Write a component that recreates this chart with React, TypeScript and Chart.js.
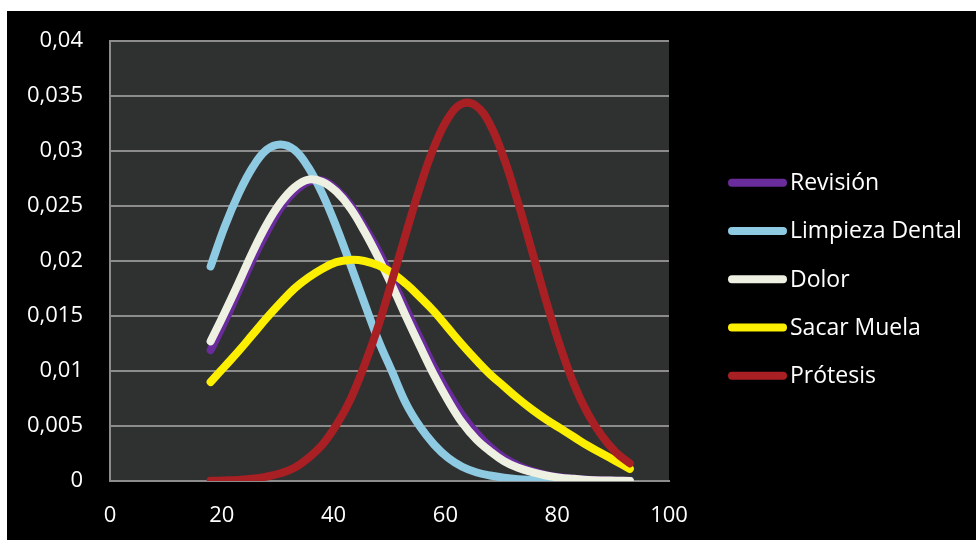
import React, { useEffect, useRef } from "react";
import { Chart, registerables } from "chart.js";

Chart.register(...registerables);

// ---- data ----
const xValues = [
  18, 20.5, 23, 25.5, 28, 30.5, 33, 35.5, 38, 40.5, 43, 45.5, 48, 50.5, 53, 55.5,
  58, 60.5, 63, 65.5, 68, 70.5, 73, 75.5, 78, 80.5, 83, 85.5, 88, 90.5, 93,
];
const seriesNames = ["Revisión", "Limpieza Dental", "Dolor", "Sacar Muela", "Prótesis"];
const revision = [
  0.0119, 0.0145, 0.0173, 0.0201, 0.0226, 0.0248, 0.0263, 0.0272, 0.0273, 0.0265, 0.0251, 0.0231,
  0.0209, 0.0183, 0.0156, 0.0129, 0.0103, 0.008, 0.006, 0.0044, 0.0031, 0.0021, 0.0014, 0.0009,
  0.00056, 0.00034, 0.0002, 0.00012, 0.00007, 0.00004, 0.00002,
];
const limpieza = [
  0.0195, 0.0231, 0.0261, 0.0285, 0.0301, 0.0306, 0.0301, 0.0285, 0.0261, 0.0231, 0.0197, 0.0162,
  0.0128, 0.0099, 0.007, 0.0049, 0.0033, 0.0021, 0.0013, 0.0008, 0.0005, 0.0003, 0.00017, 0.0001,
  0.00005, 0.00003, 0.00001, 0, 0, 0, 0,
];
const dolor = [
  0.0127, 0.0153, 0.018, 0.0208, 0.0233, 0.0253, 0.0267, 0.0274, 0.0272, 0.0263, 0.0248, 0.0227,
  0.0203, 0.0177, 0.0149, 0.0122, 0.0096, 0.0073, 0.0053, 0.0038, 0.0027, 0.0018, 0.0012, 0.0008,
  0.0005, 0.0003, 0.0002, 0.0001, 0.00005, 0.00003, 0.00001,
];
const sacarMuela = [
  0.009, 0.0104, 0.0118, 0.0133, 0.0148, 0.0162, 0.0175, 0.0185, 0.0193, 0.0199, 0.0201, 0.02,
  0.0196, 0.0189, 0.0179, 0.0167, 0.0154, 0.0139, 0.0124, 0.011, 0.0097, 0.0086, 0.0075, 0.0065,
  0.0056, 0.0048, 0.004, 0.0032, 0.0025, 0.0018, 0.0011,
];
const protesis = [
  0.00002, 0.00005, 0.0001, 0.0002, 0.0004, 0.0007, 0.0012, 0.0021, 0.0033, 0.0051, 0.0074, 0.0105,
  0.0141, 0.0183, 0.0226, 0.0268, 0.0304, 0.033, 0.0343, 0.0341, 0.0324, 0.0293, 0.0253, 0.0209,
  0.0164, 0.0123, 0.0088, 0.0061, 0.0041, 0.0026, 0.0016,
];
const seriesValues = [revision, limpieza, dolor, sacarMuela, protesis];
const seriesColors = ["#6a2c9c", "#8ecbe2", "#eef0e2", "#fcf000", "#a81f24"];

const xMin = 0;
const xMax = 100;
const xStep = 20;
const yMin = 0;
const yMax = 0.04;
const yStep = 0.005;

const FONT = "'Open Sans', 'DejaVu Sans', sans-serif";

const plotBgPlugin = {
  id: "plotBg",
  beforeDraw(chart: any) {
    const { ctx, chartArea } = chart;
    ctx.save();
    ctx.fillStyle = "#2f3131";
    ctx.fillRect(chartArea.left, chartArea.top, chartArea.right - chartArea.left, chartArea.bottom - chartArea.top);
    ctx.restore();
  },
};

const legendPlugin = {
  id: "customLegend",
  afterDraw(chart: any) {
    const { ctx } = chart;
    const lineX1 = 725;
    const lineX2 = 776;
    const textX = 783;
    const top = 171.7;
    const gap = 48.25;
    ctx.save();
    ctx.font = `23px ${FONT}`;
    ctx.textBaseline = "middle";
    ctx.textAlign = "left";
    chart.data.datasets.forEach((ds: any, i: number) => {
      const y = top + gap * i;
      ctx.strokeStyle = ds.borderColor;
      ctx.lineWidth = 8;
      ctx.lineCap = "round";
      ctx.beginPath();
      ctx.moveTo(lineX1, y);
      ctx.lineTo(lineX2, y);
      ctx.stroke();
      ctx.fillStyle = "#ffffff";
      ctx.fillText(ds.label, textX, y + 1);
    });
    ctx.restore();
  },
};

export default function App() {
  const canvasRef = useRef<HTMLCanvasElement | null>(null);

  useEffect(() => {
    if (!canvasRef.current) return;
    const datasets = seriesNames.map((name, i) => ({
      label: name,
      data: xValues.map((x, j) => ({ x, y: seriesValues[i][j] })),
      borderColor: seriesColors[i],
      backgroundColor: seriesColors[i],
      borderWidth: 8,
      borderCapStyle: "round" as const,
      borderJoinStyle: "round" as const,
      pointRadius: 0,
      tension: 0.4,
      fill: false,
      order: seriesNames.length - i,
    }));

    const chart = new Chart(canvasRef.current, {
      type: "line",
      data: { datasets },
      options: {
        animation: false,
        responsive: false,
        devicePixelRatio: 1,
        layout: { padding: { top: 30, right: 307, left: 0, bottom: 0 } },
        plugins: {
          legend: { display: false },
          tooltip: { enabled: false },
        },
        scales: {
          x: {
            type: "linear",
            min: xMin,
            max: xMax,
            ticks: {
              stepSize: xStep,
              color: "#ffffff",
              font: { family: FONT, size: 22 },
              padding: 22,
            },
            grid: { display: false, drawTicks: false },
            border: { display: true, color: "#8c8c8c", width: 2 },
            afterFit: (scale: any) => {
              scale.height = 59;
            },
          },
          y: {
            type: "linear",
            min: yMin,
            max: yMax,
            ticks: {
              stepSize: yStep,
              color: "#ffffff",
              font: { family: FONT, size: 22 },
              padding: 14,
              callback: (v: any) => String(Math.round(Number(v) * 1000) / 1000).replace(".", ","),
            },
            grid: {
              color: "#8c8c8c",
              lineWidth: 2,
              drawTicks: true,
              tickLength: 13,
              tickColor: "rgba(0,0,0,0)",
            },
            border: { display: true, color: "#8c8c8c", width: 2 },
            afterFit: (scale: any) => {
              scale.width = 103;
            },
          },
        },
      },
      plugins: [plotBgPlugin, legendPlugin],
    });
    return () => chart.destroy();
  }, []);

  return (
    <div
      style={{
        position: "fixed",
        left: 7,
        top: 11,
        width: 969,
        height: 529,
        background: "#000000",
      }}
    >
      <canvas ref={canvasRef} width={969} height={529} style={{ display: "block" }} />
    </div>
  );
}
